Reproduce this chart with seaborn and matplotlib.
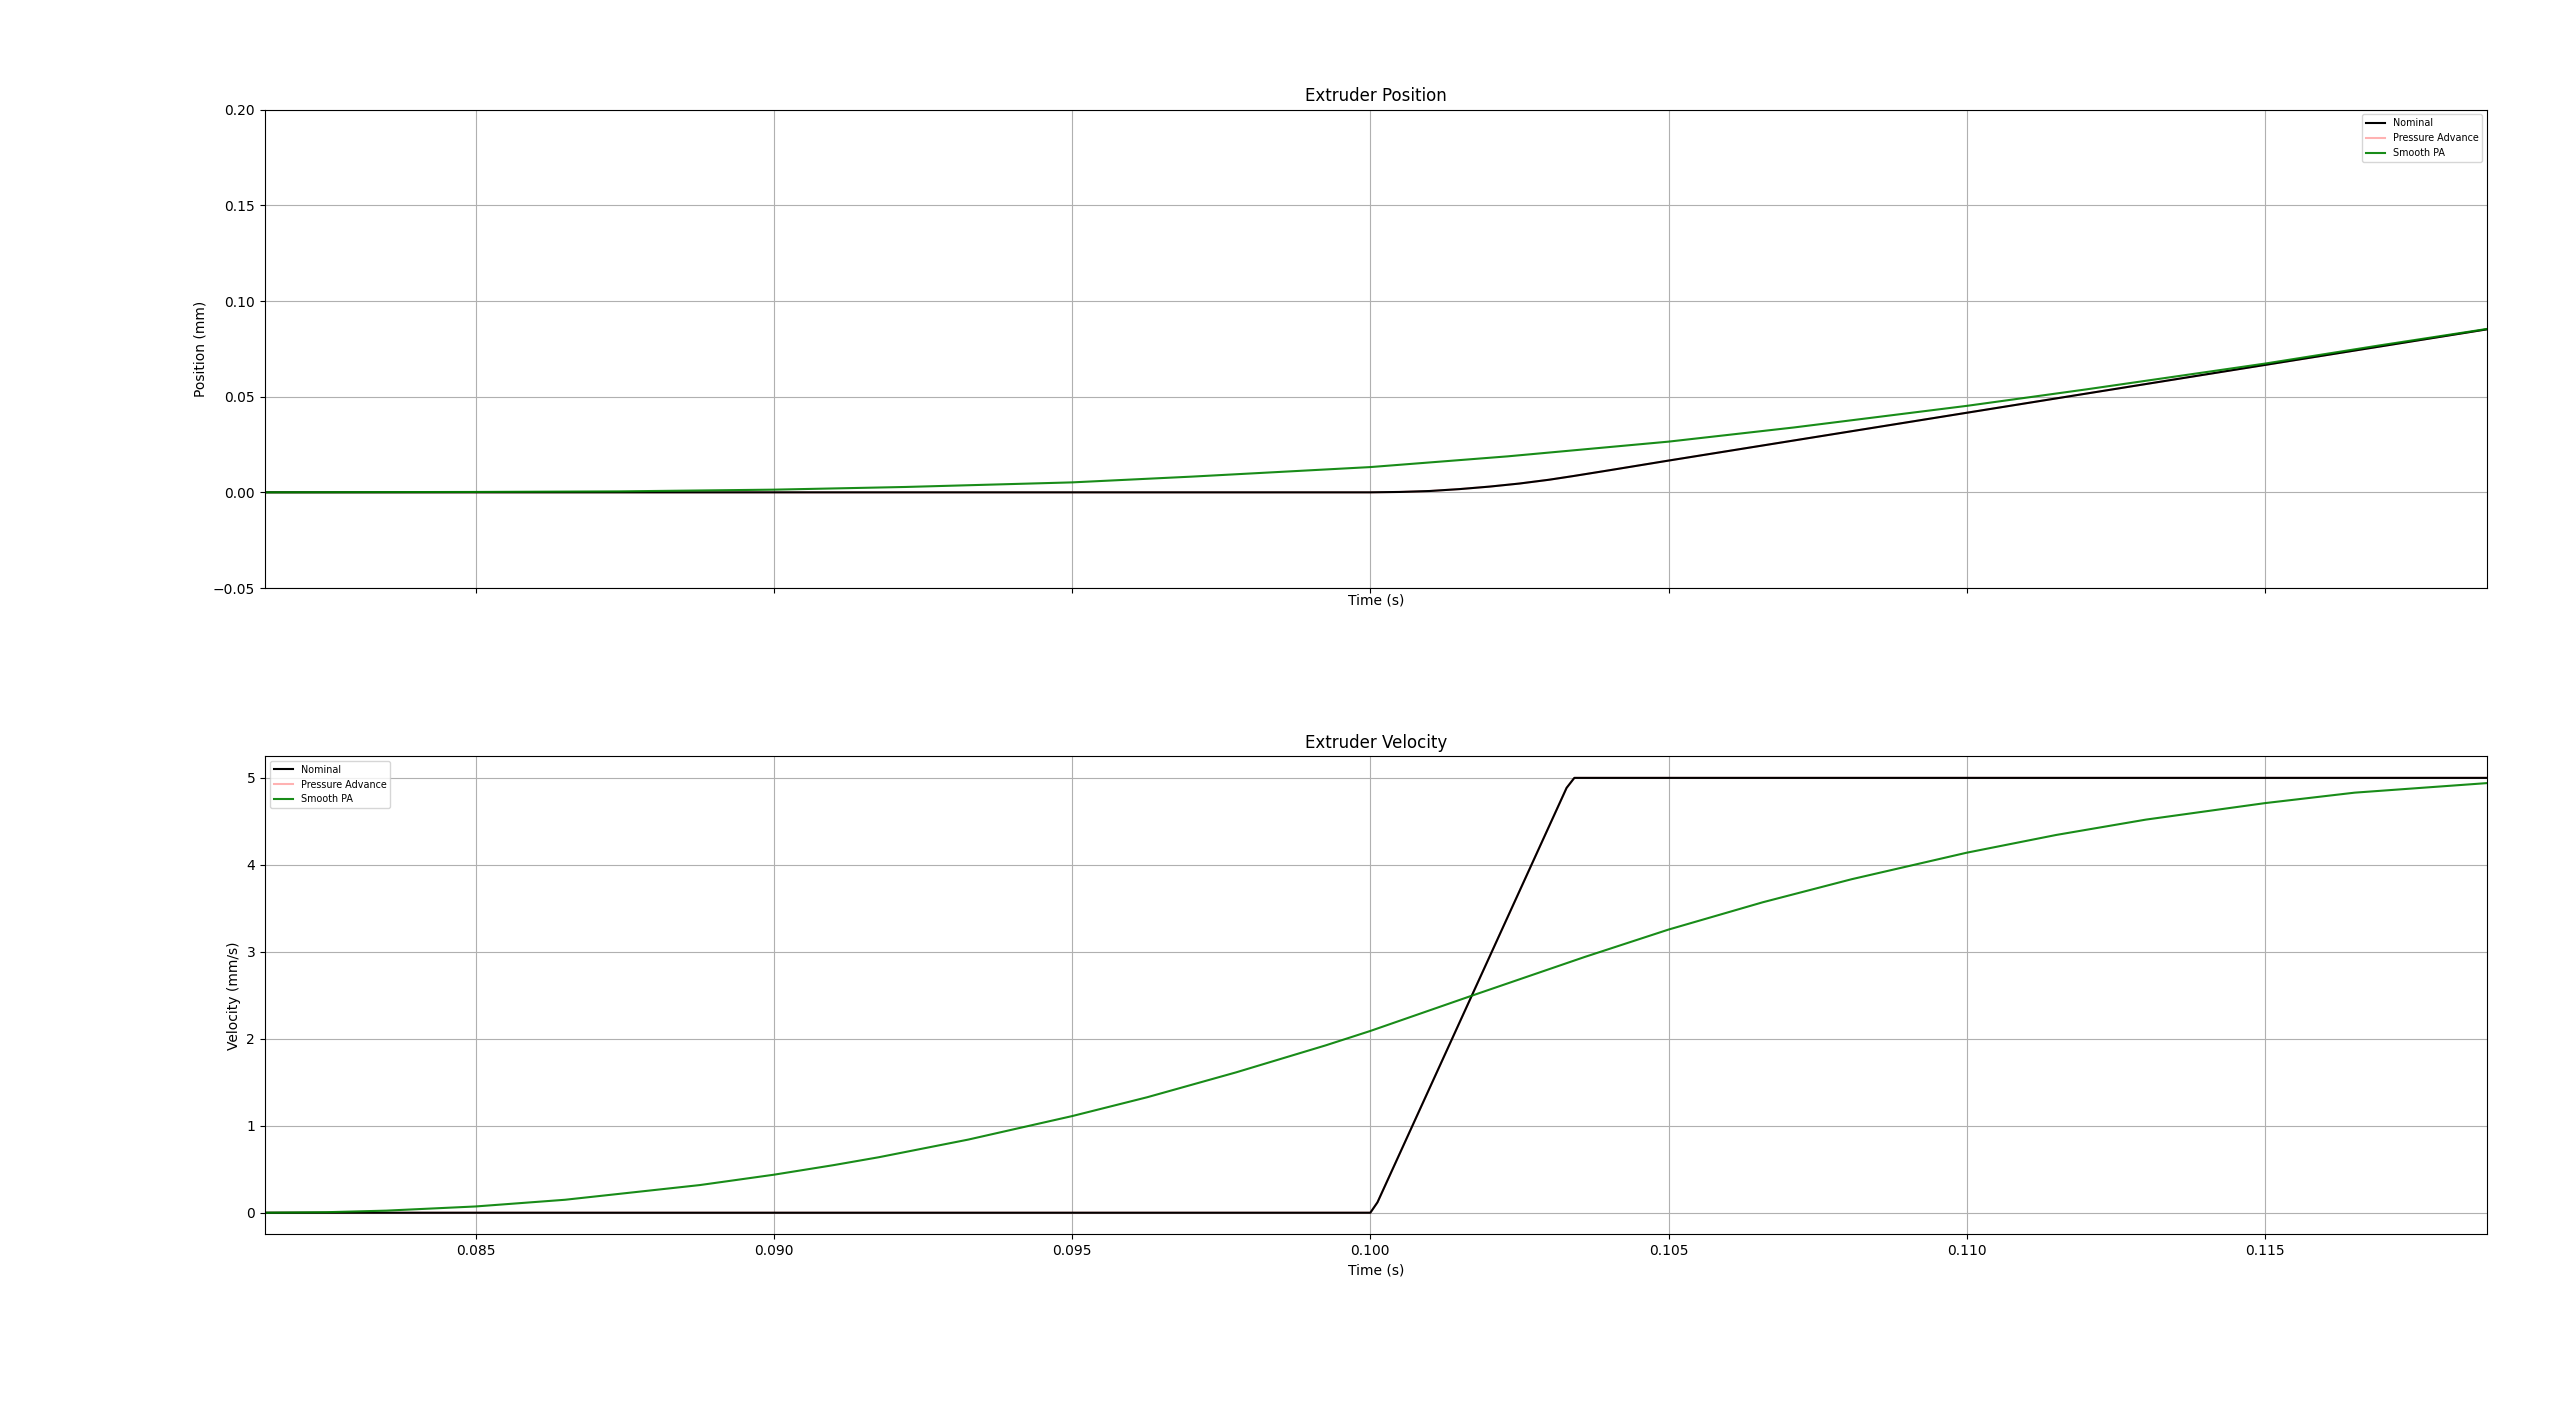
import matplotlib
matplotlib.use("Agg")
import matplotlib.pyplot as plt
import seaborn as sns

# ---------------- data ----------------
# Nominal extruder velocity (mm/s)
t_nom_vel = [0.08147, 0.1000, 0.10012, 0.10329, 0.10342, 0.11872]
nom_vel = [0.0, 0.0, 0.12, 4.885, 5.0, 5.0]
# Pressure advance velocity (coincides with nominal in the reference)
pa_vel = [0.0, 0.0, 0.12, 4.885, 5.0, 5.0]

# Smooth PA velocity (mm/s)
t_sm = [0.08147, 0.0825, 0.0835, 0.0850, 0.0865, 0.08876, 0.0900, 0.0910,
        0.09176, 0.09326, 0.0950, 0.09626, 0.09775, 0.09925, 0.1000, 0.10172,
        0.10359, 0.1050, 0.10658, 0.10807, 0.1100, 0.1115, 0.1130, 0.1150,
        0.1165, 0.11872]
sm_vel = [0.0, 0.006, 0.024, 0.072, 0.149, 0.318, 0.437, 0.547,
          0.638, 0.841, 1.111, 1.328, 1.614, 1.924, 2.09, 2.50,
          2.94, 3.256, 3.57, 3.835, 4.14, 4.344, 4.52, 4.71,
          4.83, 4.94]

# Nominal extruder position (mm)
t_nom_pos = [0.08147, 0.1000, 0.1005, 0.1010, 0.1015, 0.1020, 0.1025, 0.1030,
             0.1034, 0.1040, 0.1050, 0.1100, 0.1150, 0.11872]
nom_pos = [0.0, 0.0, 0.0002, 0.0007, 0.0017, 0.0030, 0.0046, 0.0066,
           0.0085, 0.0115, 0.0166, 0.0416, 0.0666, 0.0852]
pa_pos = list(nom_pos)

# Smooth PA position (mm)
t_sm_pos = [0.08147, 0.0850, 0.0874, 0.0900, 0.0922, 0.0950, 0.0970, 0.1000,
            0.1023, 0.1050, 0.1071, 0.1100, 0.1120, 0.1150, 0.1169, 0.11872]
sm_pos = [0.0, 0.0002, 0.0005, 0.0014, 0.0028, 0.0052, 0.0082, 0.0132,
          0.0188, 0.0265, 0.0339, 0.0452, 0.0538, 0.0673, 0.0767, 0.0854]

LABELS = ["Nominal", "Pressure Advance", "Smooth PA"]

# ---------------- figure ----------------
fig, (ax1, ax2) = plt.subplots(nrows=2, sharex=True, figsize=(25.6, 14.06), dpi=100)
fig.subplots_adjust(left=0.1035, right=0.9715, top=0.922, bottom=0.122, hspace=0.3515)

def draw(ax, t_nom, nom, pa, t_s, sm):
    sns.lineplot(x=t_nom, y=pa, ax=ax, color="r", alpha=0.3, estimator=None,
                 sort=False, label="Pressure Advance", linewidth=1.5)
    sns.lineplot(x=t_nom, y=nom, ax=ax, color="black", estimator=None,
                 sort=False, label="Nominal", linewidth=1.5)
    sns.lineplot(x=t_s, y=sm, ax=ax, color="g", alpha=0.9, estimator=None,
                 sort=False, label="Smooth PA", linewidth=1.5)
    lines = ax.get_lines()
    return [lines[1], lines[0], lines[2]]

h1 = draw(ax1, t_nom_pos, nom_pos, pa_pos, t_sm_pos, sm_pos)
ax1.set_title("Extruder Position", fontsize=12)
ax1.set_ylabel("Position (mm)")
ax1.set_xlabel("Time (s)", labelpad=0.5)
ax1.xaxis.label.set_visible(True)
ax1.set_ylim(-0.05, 0.20)
ax1.grid(True)
ax1.legend(handles=h1, labels=LABELS, loc="upper right", fontsize="x-small")

h2 = draw(ax2, t_nom_vel, nom_vel, pa_vel, t_sm, sm_vel)
ax2.set_title("Extruder Velocity", fontsize=12)
ax2.set_ylabel("Velocity (mm/s)")
ax2.set_xlabel("Time (s)")
ax2.grid(True)
ax2.legend(handles=h2, labels=LABELS, loc="upper left", fontsize="x-small")

ax2.set_xlim(0.08147, 0.11872)
ax2.set_ylim(-0.25, 5.25)

for ax in (ax1, ax2):
    for sp in ax.spines.values():
        sp.set_color("black")

fig.savefig("out.png", dpi=100)
